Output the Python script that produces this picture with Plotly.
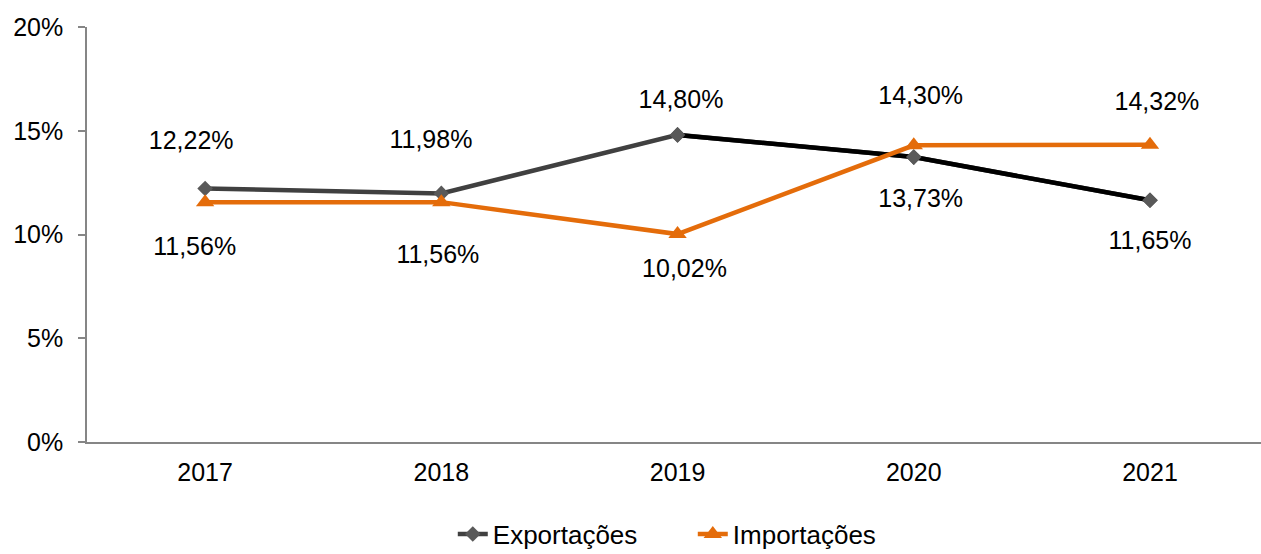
import plotly.graph_objects as go

years = ["2017", "2018", "2019", "2020", "2021"]
exportacoes = [12.22, 11.98, 14.80, 13.73, 11.65]
importacoes = [11.56, 11.56, 10.02, 14.30, 14.32]
y_ticks = [0, 5, 10, 15, 20]
y_tick_labels = ["0%", "5%", "10%", "15%", "20%"]

# where each data label sits relative to its point, in px
# (dy negative = above, dx negative = left), as placed in the original
exp_label_dy = [-48, -54, -36, 41, 40]
imp_label_dy = [44, 52, 34, -50, -44]
exp_label_dx = [-15, -10, 4, 7, 0]
imp_label_dx = [-10, -4, 8, 8, 6]

FONT = "Liberation Sans, Arial, sans-serif"
FSIZE = 25
GREY = "#404040"
MARKER_GREY = "#595959"
ORANGE = "#E46C0A"
AXIS = "#868686"
NBSP = "\u00a0"


def fmt(v):
    return f"{v:.2f}".replace(".", ",") + "%"


def label_trace(series, dys, dxs):
    # plotly pushes point text away by the marker radius, so an invisible
    # marker of the right size puts each label at its vertical spot;
    # padding with non-breaking spaces nudges it sideways
    sizes, positions, texts = [], [], []
    for v, dy, dx in zip(series, dys, dxs):
        if dy < 0:
            r = -dy - 0.61 * FSIZE
            positions.append("top center")
        else:
            r = dy - 0.39 * FSIZE
            positions.append("bottom center")
        sizes.append(1.6 * (r - 1))
        pad = NBSP * round(abs(dx) / (0.139 * FSIZE))
        texts.append(pad + fmt(v) if dx > 0 else fmt(v) + pad)
    return go.Scatter(
        x=years, y=series, mode="markers+text", text=texts,
        textposition=positions, textfont=dict(family=FONT, size=FSIZE, color="black"),
        marker=dict(size=sizes, color="rgba(0,0,0,0)", line=dict(width=0)),
        showlegend=False, hoverinfo="skip",
    )


fig = go.Figure()

# Exportações: grey line for the first segments, black from 2019 on
fig.add_trace(go.Scatter(
    x=years, y=exportacoes, name="Exportações", mode="lines+markers",
    line=dict(color=GREY, width=4.5),
    marker=dict(symbol="diamond", size=12, color=MARKER_GREY),
))
fig.add_trace(go.Scatter(
    x=years[2:], y=exportacoes[2:], mode="lines", showlegend=False,
    line=dict(color="black", width=4.5), hoverinfo="skip",
))
fig.add_trace(go.Scatter(
    x=years[2:], y=exportacoes[2:], mode="markers", showlegend=False,
    marker=dict(symbol="diamond", size=12, color=MARKER_GREY), hoverinfo="skip",
))
fig.add_trace(go.Scatter(
    x=years, y=importacoes, name="Importações", mode="lines+markers",
    line=dict(color=ORANGE, width=4.5),
    marker=dict(symbol="triangle-up", size=16, color=ORANGE),
))
fig.add_trace(label_trace(exportacoes, exp_label_dy, exp_label_dx))
fig.add_trace(label_trace(importacoes, imp_label_dy, imp_label_dx))

fig.update_layout(
    width=1261, height=554,
    margin=dict(l=87, r=0, t=27, b=112, autoexpand=False),
    paper_bgcolor="white", plot_bgcolor="white",
    font=dict(family=FONT, size=FSIZE, color="black"),
    showlegend=True,
    legend=dict(
        orientation="h", x=0.516, xanchor="center", y=-0.222, yanchor="middle",
        font=dict(family=FONT, size=26), bgcolor="rgba(0,0,0,0)",
        entrywidth=195,
    ),
)
fig.update_xaxes(
    type="category", range=[-0.5, 4.47], showline=True, linecolor=AXIS, linewidth=2,
    showgrid=False, zeroline=False, ticks="", ticklabelstandoff=7,
    tickfont=dict(family=FONT, size=FSIZE, color="black"),
)
fig.update_yaxes(
    range=[0, 20], tickmode="array", tickvals=y_ticks, ticktext=y_tick_labels,
    showline=True, linecolor=AXIS, linewidth=1.5,
    showgrid=False, zeroline=False, ticks="outside", ticklen=7,
    tickcolor=AXIS, tickwidth=1.5, ticklabelstandoff=10,
    tickfont=dict(family=FONT, size=FSIZE, color="black"),
)

# the page's default 8px body margin would shift the chart off the window
fig.write_html(
    "out.html",
    config={"displayModeBar": False},
    post_script="document.body.style.margin = '0';",
)
